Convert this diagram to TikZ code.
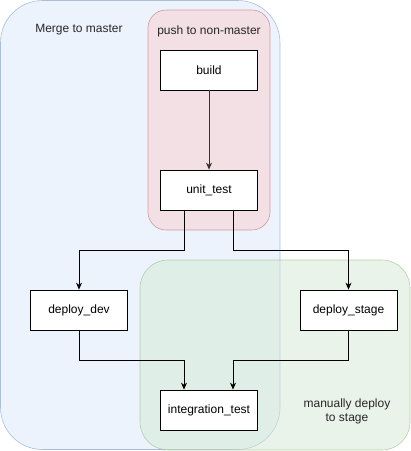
\documentclass[tikz,border=0pt]{standalone}
\usepackage{fontspec}
\setmainfont{Liberation Sans}
\usetikzlibrary{arrows.meta,positioning}
\definecolor{bluefill}{HTML}{DAE8FC}
\definecolor{blueline}{HTML}{6C8EBF}
\definecolor{redfill}{HTML}{F8CECC}
\definecolor{redline}{HTML}{B85450}
\definecolor{greenfill}{HTML}{D5E8D4}
\definecolor{greenline}{HTML}{82B366}
\tikzset{
  zone/.style={line width=0.6pt,fill opacity=0.5,draw opacity=0.55},
  job/.style={rectangle,draw=black,fill=white,line width=0.8pt,minimum width=97pt,minimum height=40pt,inner sep=2pt,font=\fontsize{12}{14}\selectfont},
  flow/.style={-{Stealth[length=7pt,width=6pt]},line width=0.8pt,black},
  zonelabel/.style={font=\fontsize{12}{14}\selectfont,align=center,text=black!85}
}
\begin{document}
\begin{tikzpicture}[x=1pt,y=-1pt]
    \useasboundingbox (0,0) rectangle (411,451);
    % trigger zones
    \draw[zone,fill=bluefill,draw=blueline,rounded corners=42pt] (0.5,0.5) rectangle (280,449.5);
    \draw[zone,fill=redfill,draw=redline,rounded corners=18pt] (148,10) rectangle (270,230);
    \draw[zone,fill=greenfill,draw=greenline,rounded corners=28pt] (140,260) rectangle (410,450);
    \node[zonelabel] (mergelabel) at (79,30) {Merge to master};
    \node[zonelabel] (pushlabel) at (209,31) {push to non-master};
    \node[zonelabel] (manuallabel) at (347,411) {manually deploy\\to stage};
    % jobs
    \node[job] (build) at (209,70) {build};
    \node[job] (unittest) at (209,190) {unit\_test};
    \node[job] (deploydev) at (79,310) {deploy\_dev};
    \node[job] (deploystage) at (348.5,310) {deploy\_stage};
    \node[job] (integrationtest) at (209,410) {integration\_test};
    % pipeline
    \draw[flow,black!80] (build) -- (unittest);
    \draw[flow] ([xshift=-25pt]unittest.south) -- ++(0,40) -| (deploydev.north);
    \draw[flow] ([xshift=24pt]unittest.south) -- ++(0,40) -| (deploystage.north);
    \draw[flow] (deploydev.south) -- ++(0,30) -| ([xshift=-25pt]integrationtest.north);
    \draw[flow] (deploystage.south) -- ++(0,30) -| ([xshift=24pt]integrationtest.north);
\end{tikzpicture}
\end{document}
